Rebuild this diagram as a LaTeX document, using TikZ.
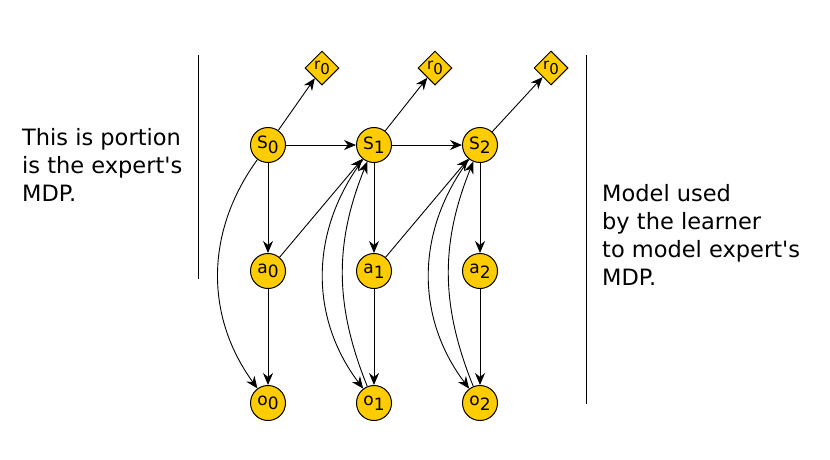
\documentclass[tikz,border=0pt]{standalone}
\usepackage{fontspec}
\setmainfont{DejaVu Sans}[Ligatures=TeXOff]
\usetikzlibrary{shapes.geometric,arrows.meta}
\definecolor{gold}{RGB}{255,204,0}
\tikzset{
  st/.style={circle,draw=black,line width=1pt,fill=gold,minimum size=35pt,inner sep=0pt,font=\fontsize{17}{17}\selectfont},
  rw/.style={diamond,draw=black,line width=1pt,fill=gold,minimum size=34pt,inner sep=0pt,font=\fontsize{15}{15}\selectfont},
  arr/.style={-{Stealth[length=12pt,width=10pt]},line width=0.9pt},
  sep/.style={line width=1pt},
  txt/.style={font=\fontsize{22.5}{28}\selectfont,align=left,inner sep=0pt}
}
\newcommand{\lab}[2]{#1\raisebox{-4.5pt}{#2}}
\begin{document}
\begin{tikzpicture}[x=1pt,y=-1pt]
\useasboundingbox (0,0) rectangle (830,459);
\node[st] (s0) at (268,145) {\lab{S}{0}};
\node[st] (s1) at (374,145) {\lab{S}{1}};
\node[st] (s2) at (480,145) {\lab{S}{2}};
\node[rw] (r0) at (322,68) {\lab{r}{0}};
\node[rw] (r1) at (435,68) {\lab{r}{0}};
\node[rw] (r2) at (551,68) {\lab{r}{0}};
\node[st] (a0) at (268,271) {\lab{a}{0}};
\node[st] (a1) at (374,271) {\lab{a}{1}};
\node[st] (a2) at (480,271) {\lab{a}{2}};
\node[st] (o0) at (268,403) {\lab{o}{0}};
\node[st] (o1) at (374,403) {\lab{o}{1}};
\node[st] (o2) at (480,403) {\lab{o}{2}};
\coordinate (l1) at (198,55); \coordinate (l2) at (198,279);
\coordinate (m1) at (586,55); \coordinate (m2) at (586,404);
\draw[sep] (l1) -- (l2);
\draw[sep] (m1) -- (m2);
\node[txt,anchor=west] (t1) at (22,165) {This is portion\\is the expert's\\MDP.};
\node[txt,anchor=west] (t2) at (602,235) {Model used\\by the learner\\to model expert's\\MDP.};
\draw[arr] (s0) -- (s1);
\draw[arr] (s1) -- (s2);
\draw[arr] (s0) -- (r0);
\draw[arr] (s1) -- (r1);
\draw[arr] (s2) -- (r2);
\draw[arr] (s0) -- (a0);
\draw[arr] (s1) -- (a1);
\draw[arr] (s2) -- (a2);
\draw[arr] (a0) -- (o0);
\draw[arr] (a1) -- (o1);
\draw[arr] (a2) -- (o2);
\draw[arr] (a0) -- (s1);
\draw[arr] (a1) -- (s2);
\draw[arr] (s0) to[bend right=36] (o0);
\draw[arr] (s1) to[bend right=37] (o1);
\draw[arr] (s2) to[bend right=37] (o2);
\draw[arr] (o1) to[bend left=22] (s1);
\draw[arr] (o2) to[bend left=22] (s2);
\end{tikzpicture}
\end{document}
